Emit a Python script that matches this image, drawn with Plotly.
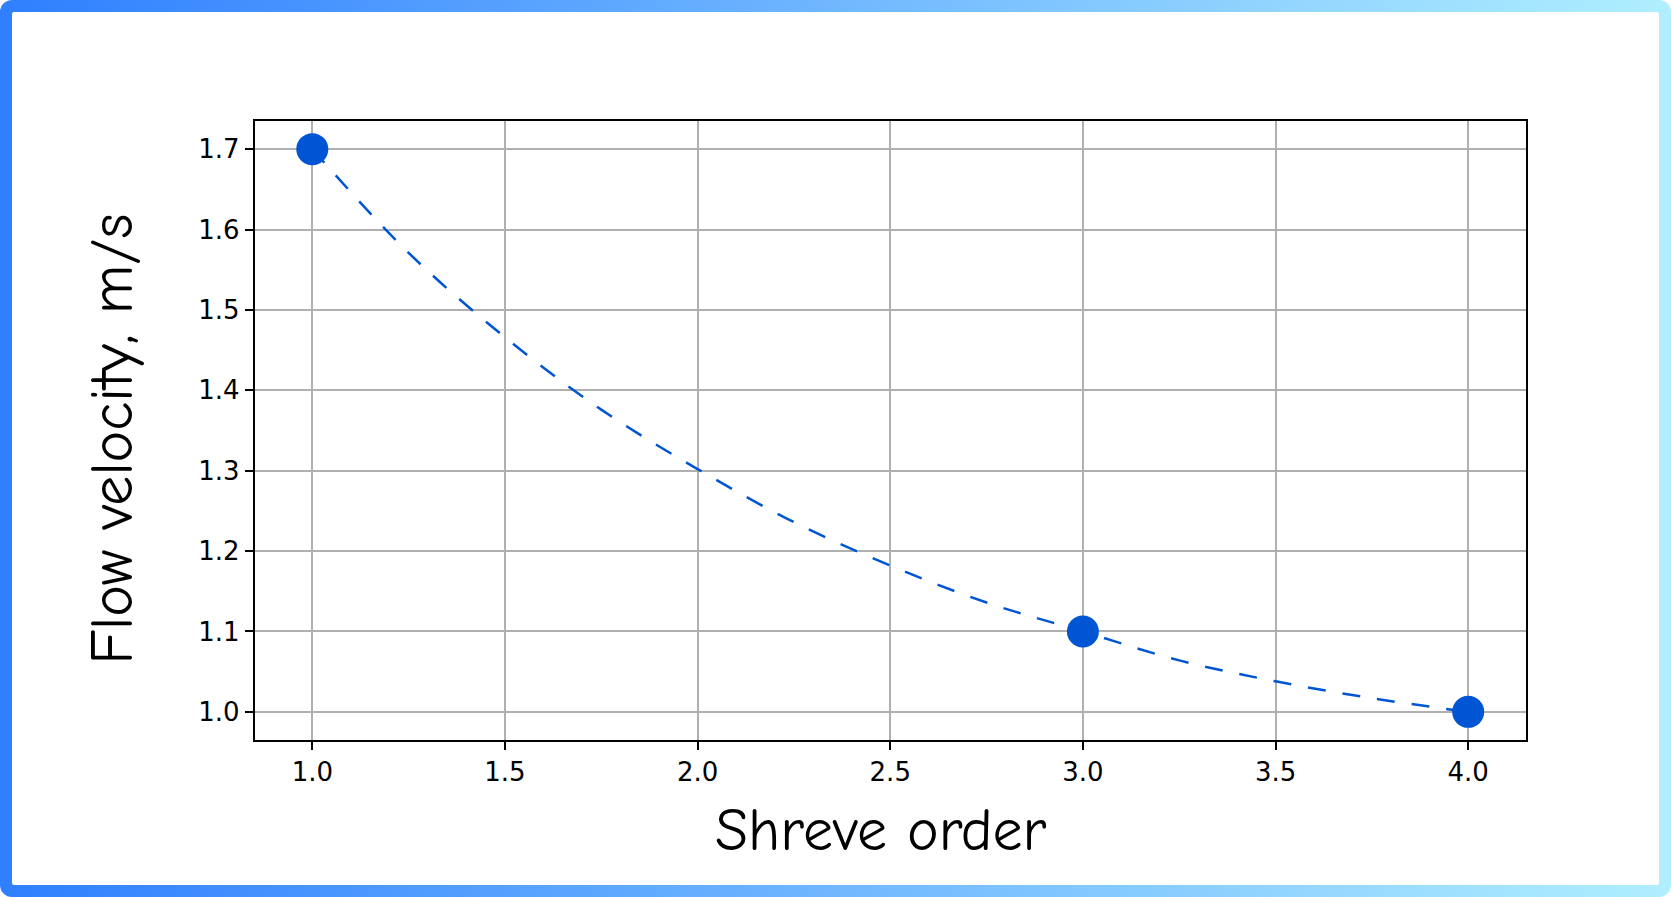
import base64
import plotly.graph_objects as go

# Observed data points
shreve_order = [1.0, 3.0, 4.0]
flow_velocity = [1.70, 1.10, 1.00]

# Fitted trend curve
curve_x = [1.0, 1.25, 1.5, 1.75, 2.0, 2.25, 2.5, 2.75, 3.0, 3.25, 3.5, 3.75, 4.0]
curve_y = [1.700, 1.571, 1.466, 1.376, 1.302, 1.236, 1.182, 1.136, 1.100, 1.064, 1.038, 1.017, 1.000]

x_ticks = [1.0, 1.5, 2.0, 2.5, 3.0, 3.5, 4.0]
y_ticks = [1.0, 1.1, 1.2, 1.3, 1.4, 1.5, 1.6, 1.7]

W, H = 1671, 897
BLUE = "#0055d4"

svg = f'''<svg xmlns="http://www.w3.org/2000/svg" width="{W}" height="{H}" viewBox="0 0 {W} {H}" preserveAspectRatio="none">
<defs><linearGradient id="g" x1="0" y1="0" x2="1" y2="0">
<stop offset="0" stop-color="#2f7fff"/><stop offset="1" stop-color="#b0efff"/></linearGradient></defs>
<rect x="0" y="0" width="{W}" height="{H}" rx="12" ry="12" fill="url(#g)"/>
<rect x="12" y="12" width="{W-24}" height="{H-24}" rx="2" ry="2" fill="#ffffff"/>
</svg>'''
src = "data:image/svg+xml;base64," + base64.b64encode(svg.encode()).decode()

fig = go.Figure()
fig.add_trace(go.Scatter(
    x=curve_x, y=curve_y, mode="lines",
    line=dict(color=BLUE, width=2.5, dash="18px,17px", shape="spline"),
    hoverinfo="skip", showlegend=False))
fig.add_trace(go.Scatter(
    x=shreve_order, y=flow_velocity, mode="markers",
    marker=dict(color=BLUE, size=32, line=dict(width=0)),
    showlegend=False))

axis_common = dict(
    showgrid=True, gridcolor="#b0b0b0", gridwidth=1.5,
    showline=True, linecolor="black", linewidth=1.6, mirror=True,
    ticks="outside", ticklen=8, tickwidth=1.5, tickcolor="black",
    tickfont=dict(family="DejaVu Sans", size=26, color="black"),
    zeroline=False)

title_font = dict(family="Comic Sans MS, Comic Neue, Open Sans, sans-serif", size=60, color="black")

fig.update_layout(
    width=W, height=H,
    margin=dict(l=0, r=0, t=0, b=0),
    paper_bgcolor="white", plot_bgcolor="rgba(0,0,0,0)",
    xaxis=dict(range=[0.85, 4.15], domain=[254.5 / W, 1526 / W],
               tickvals=x_ticks, ticktext=[f"{v:.1f}" for v in x_ticks], **axis_common),
    yaxis=dict(range=[0.965, 1.735], domain=[1 - 740 / H, 1 - 121 / H],
               tickvals=y_ticks, ticktext=[f"{v:.1f}" for v in y_ticks], **axis_common),
    images=[dict(source=src, xref="paper", yref="paper", x=0, y=1,
                 sizex=1, sizey=1, xanchor="left", yanchor="top",
                 sizing="stretch", layer="below")],
    annotations=[
        dict(text="Shreve order", xref="paper", yref="paper",
             x=881 / W, y=1 - 830 / H, xanchor="center", yanchor="middle",
             showarrow=False, font=title_font),
        dict(text="Flow velocity, m/s", xref="paper", yref="paper",
             x=112 / W, y=1 - 438.5 / H, xanchor="center", yanchor="middle",
             textangle=-90, showarrow=False, font=title_font),
    ],
)

fig.write_html("out.html", config={"displayModeBar": False},
               post_script="document.body.style.margin='0';document.body.style.overflow='hidden';")
